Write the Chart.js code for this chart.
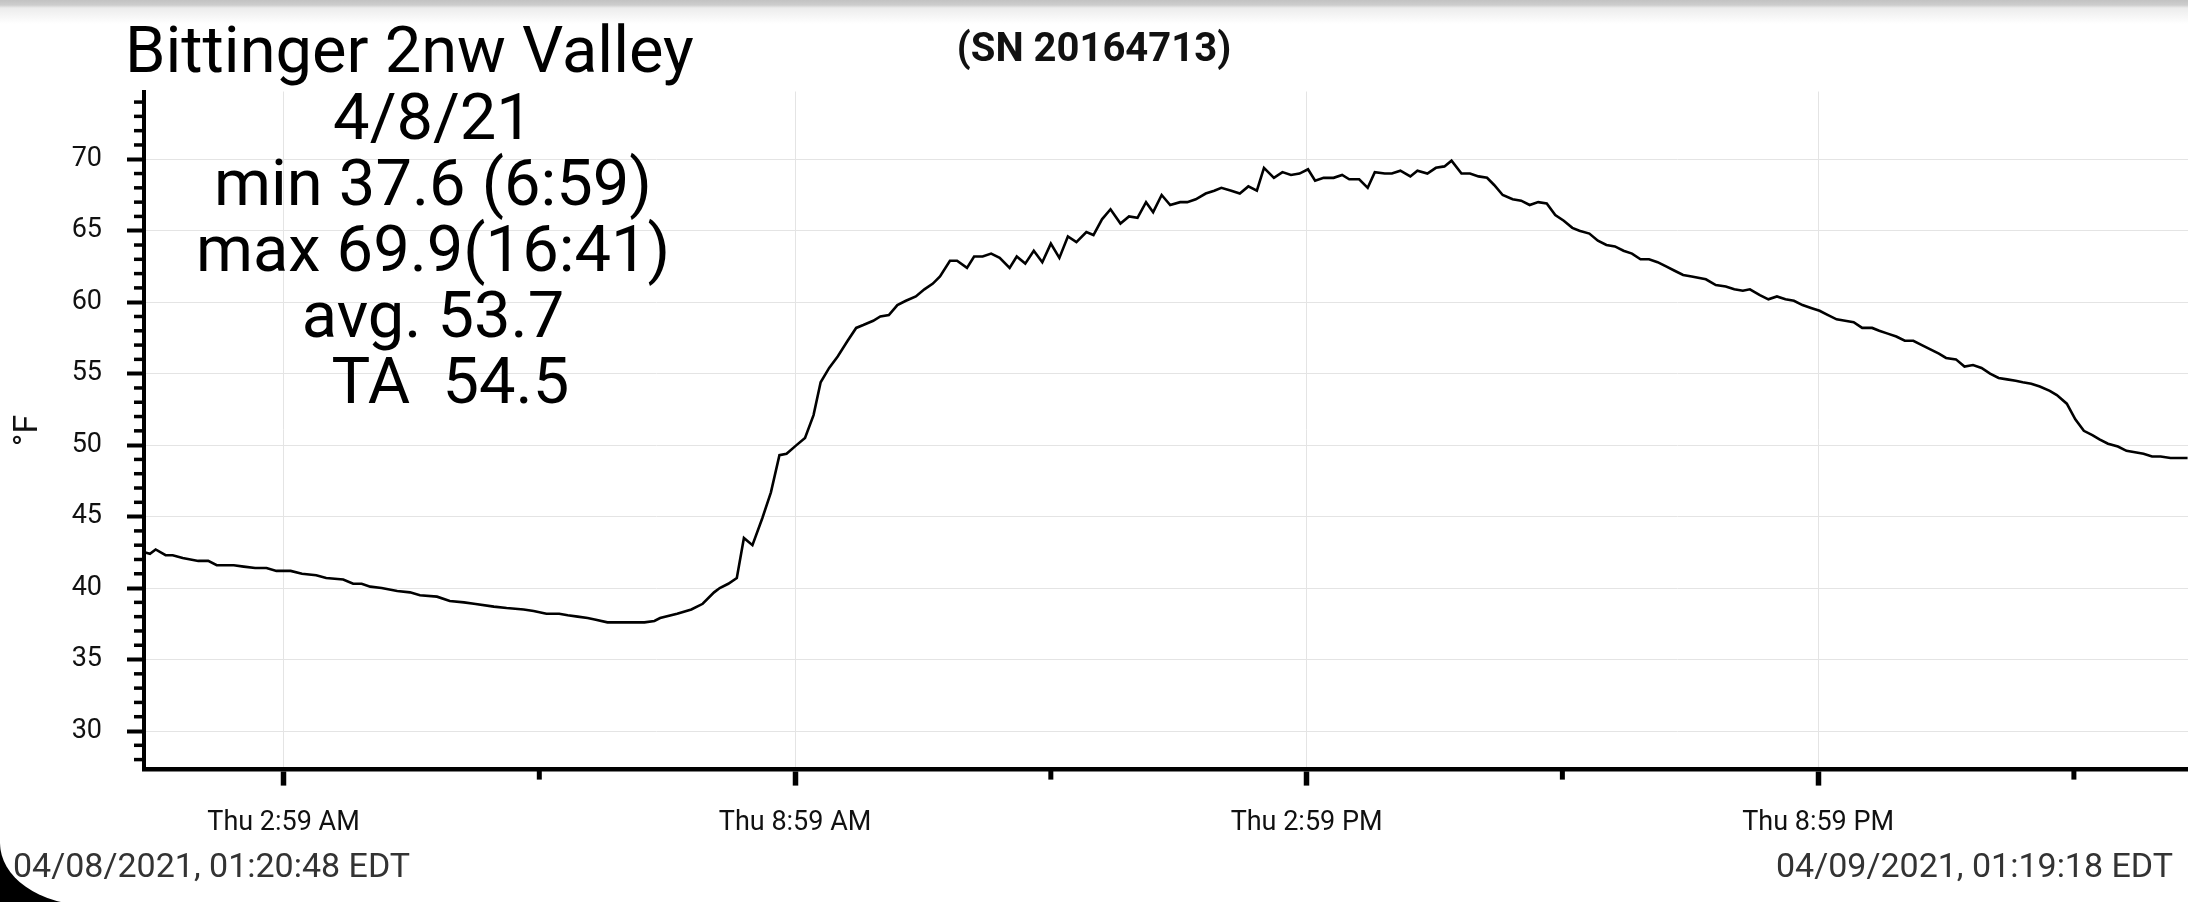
<!DOCTYPE html>
<html>
<head>
<meta charset="utf-8">
<title>Bittinger 2nw Valley</title>
<script src="https://cdn.jsdelivr.net/npm/chart.js@4.4.1/dist/chart.umd.min.js"></script>
<style>
  html, body { margin: 0; padding: 0; background: #fff; }
  #wrap { position: relative; width: 2188px; height: 902px; overflow: hidden; font-family: Roboto, sans-serif; }
  #tempChart { position: absolute; left: 0; top: 0; }
  .topShade { position: absolute; left: 0; top: 0; width: 2188px; height: 24px;
    background: linear-gradient(#c2c2c2 0px, #cdcdcd 5px, #ececec 8px, #ffffff 24px); z-index: 1; }
  .note { position: absolute; color: #000; white-space: pre; z-index: 2; }
  #station { left: 125px; top: 17px; font-size: 65px; line-height: 66px; }
  #stats { left: 133px; top: 84px; width: 600px; text-align: center; font-size: 65px; line-height: 66px; }
  #stats span { position: relative; left: 10px; }
  .stamp { position: absolute; top: 848px; font-size: 34px; line-height: 34px; color: #333; z-index: 2; }
  #corner { position: absolute; left: 0; top: 832px; width: 110px; height: 70px; background: #000; overflow: hidden; z-index: 1; }
  #corner div { position: absolute; left: 0; top: -200px; width: 300px; height: 273px; background: #fff;
    border-bottom-left-radius: 88px 62px; }
</style>
</head>
<body>
<div id="wrap">
  <canvas id="tempChart" width="2188" height="902"></canvas>
  <div class="topShade"></div>
  <div id="station" class="note">Bittinger 2nw Valley</div>
  <div id="stats" class="note">4/8/21
min 37.6 (6:59)
max 69.9(16:41)
avg. 53.7
<span> TA  54.5</span></div>
  <div id="corner"><div></div></div>
  <div class="stamp" style="left:13px">04/08/2021, 01:20:48 EDT</div>
  <div class="stamp" style="right:15px">04/09/2021, 01:19:18 EDT</div>
</div>

<script>
// logger readings, 4/8/21 -> 4/9/21 (hours past 23 are the next day)
const readTimes = [
  '01:21', '01:25', '01:29', '01:36', '01:41', '01:48', '01:59', '02:06', '02:12', '02:24',
  '02:31', '02:39', '02:47', '02:54', '03:04', '03:12', '03:22', '03:29', '03:41', '03:48',
  '03:54', '04:00', '04:08', '04:19', '04:28', '04:35', '04:47', '04:56', '05:06', '05:13',
  '05:27', '05:36', '05:48', '05:55', '06:04', '06:13', '06:19', '06:26', '06:33', '06:38',
  '06:47', '06:59', '07:13', '07:20', '07:24', '07:36', '07:46', '07:54', '08:02', '08:06',
  '08:12', '08:18', '08:23', '08:29', '08:36', '08:42', '08:48', '08:53', '09:00', '09:06',
  '09:12', '09:17', '09:23', '09:29', '09:36', '09:42', '09:47', '09:54', '09:59', '10:05',
  '10:11', '10:17', '10:24', '10:30', '10:36', '10:41', '10:48', '10:53', '11:00', '11:05',
  '11:11', '11:17', '11:23', '11:30', '11:35', '11:41', '11:47', '11:53', '11:59', '12:05',
  '12:11', '12:17', '12:24', '12:29', '12:35', '12:41', '12:48', '12:54', '13:00', '13:06',
  '13:11', '13:17', '13:23', '13:30', '13:35', '13:41', '13:48', '13:54', '13:59', '14:06',
  '14:12', '14:18', '14:24', '14:29', '14:36', '14:42', '14:48', '14:54', '15:00', '15:05',
  '15:11', '15:18', '15:24', '15:29', '15:36', '15:42', '15:47', '15:54', '15:59', '16:05',
  '16:12', '16:17', '16:24', '16:30', '16:36', '16:41', '16:48', '16:54', '17:00', '17:06',
  '17:11', '17:17', '17:24', '17:30', '17:36', '17:42', '17:48', '17:54', '18:00', '18:06',
  '18:11', '18:18', '18:24', '18:30', '18:36', '18:42', '18:48', '18:54', '19:00', '19:06',
  '19:12', '19:18', '19:24', '19:30', '19:40', '19:47', '19:54', '20:00', '20:06', '20:11',
  '20:18', '20:24', '20:30', '20:36', '20:42', '20:48', '20:54', '21:00', '21:06', '21:12',
  '21:18', '21:24', '21:30', '21:37', '21:42', '21:48', '21:54', '22:00', '22:06', '22:12',
  '22:18', '22:24', '22:29', '22:36', '22:42', '22:48', '22:54', '23:00', '23:06', '23:12',
  '23:18', '23:23', '23:29', '23:35', '23:42', '23:47', '23:54', '24:00', '24:06', '24:12',
  '24:17', '24:23', '24:30', '24:36', '24:42', '24:48', '24:54', '25:00', '25:07', '25:14',
  '25:19'
];
const tempsF = [
  42.5, 42.4, 42.7, 42.3, 42.3, 42.1, 41.9, 41.9, 41.6, 41.6,
  41.5, 41.4, 41.4, 41.2, 41.2, 41.0, 40.9, 40.7, 40.6, 40.3,
  40.3, 40.1, 40.0, 39.8, 39.7, 39.5, 39.4, 39.1, 39.0, 38.9,
  38.7, 38.6, 38.5, 38.4, 38.2, 38.2, 38.1, 38.0, 37.9, 37.8,
  37.6, 37.6, 37.6, 37.7, 37.9, 38.2, 38.5, 38.9, 39.7, 40.0,
  40.3, 40.7, 43.5, 43.0, 44.9, 46.7, 49.3, 49.4, 50.0, 50.5,
  52.1, 54.4, 55.4, 56.2, 57.3, 58.2, 58.4, 58.7, 59.0, 59.1,
  59.8, 60.1, 60.4, 60.9, 61.3, 61.8, 62.9, 62.9, 62.4, 63.2,
  63.2, 63.4, 63.1, 62.4, 63.2, 62.7, 63.6, 62.8, 64.1, 63.1,
  64.6, 64.2, 64.9, 64.7, 65.8, 66.5, 65.5, 66.0, 65.9, 67.0,
  66.3, 67.5, 66.8, 67.0, 67.0, 67.2, 67.6, 67.8, 68.0, 67.8,
  67.6, 68.1, 67.8, 69.4, 68.7, 69.1, 68.9, 69.0, 69.3, 68.5,
  68.7, 68.7, 68.9, 68.6, 68.6, 68.0, 69.1, 69.0, 69.0, 69.2,
  68.8, 69.2, 69.0, 69.4, 69.5, 69.9, 69.0, 69.0, 68.8, 68.7,
  68.2, 67.5, 67.2, 67.1, 66.8, 67.0, 66.9, 66.1, 65.7, 65.2,
  65.0, 64.8, 64.3, 64.0, 63.9, 63.6, 63.4, 63.0, 63.0, 62.8,
  62.5, 62.2, 61.9, 61.8, 61.6, 61.2, 61.1, 60.9, 60.8, 60.9,
  60.5, 60.2, 60.4, 60.2, 60.1, 59.8, 59.6, 59.4, 59.1, 58.8,
  58.7, 58.6, 58.2, 58.2, 58.0, 57.8, 57.6, 57.3, 57.3, 57.0,
  56.7, 56.4, 56.1, 56.0, 55.5, 55.6, 55.4, 55.0, 54.7, 54.6,
  54.5, 54.4, 54.3, 54.1, 53.8, 53.5, 52.9, 51.8, 51.0, 50.7,
  50.4, 50.1, 49.9, 49.6, 49.5, 49.4, 49.2, 49.2, 49.1, 49.1,
  49.1
];

const rangeStart = '01:20:48';
const rangeEnd = '25:19:18';

const xTickTimes = ['02:59', '05:59', '08:59', '11:59', '14:59', '17:59', '20:59', '23:59'];
const xTickLabels = ['Thu 2:59 AM', '', 'Thu 8:59 AM', '', 'Thu 2:59 PM', '', 'Thu 8:59 PM', ''];
const yTickValues = [28, 29, 30, 31, 32, 33, 34, 35, 36, 37, 38, 39, 40, 41, 42, 43, 44, 45, 46, 47,
  48, 49, 50, 51, 52, 53, 54, 55, 56, 57, 58, 59, 60, 61, 62, 63, 64, 65, 66, 67, 68, 69, 70, 71, 72, 73, 74];
const yLabelValues = [30, 35, 40, 45, 50, 55, 60, 65, 70];

// "HH:MM[:SS]" -> minutes past midnight of 4/8
function toMinutes(str) {
    const p = str.split(':').map(Number);
    return p[0] * 60 + p[1] + (p[2] || 0) / 60;
}

const points = readTimes.map((t, i) => ({ x: toMinutes(t), y: tempsF[i] }));

const tickFont = { family: 'Roboto', size: 27 };
const gridColor = ctx => (ctx.tick && ctx.tick.major) ? '#e4e4e4' : 'rgba(0,0,0,0)';
const tickColor = ctx => (ctx.tick && ctx.tick.major) ? '#000' : 'rgba(0,0,0,0)';

// short ticks between the labelled ones
const minorTicks = {
    id: 'minorTicks',
    afterDraw(chart) {
        const ctx = chart.ctx;
        const xs = chart.scales.x;
        const ys = chart.scales.y;
        ctx.save();
        ctx.strokeStyle = '#000';
        ctx.lineWidth = 5;
        xs.ticks.forEach(t => {
            if (t.major) return;
            const px = xs.getPixelForValue(t.value);
            ctx.beginPath();
            ctx.moveTo(px, xs.top);
            ctx.lineTo(px, xs.top + 10);
            ctx.stroke();
        });
        ctx.lineWidth = 3.5;
        ys.ticks.forEach(t => {
            if (t.major) return;
            const py = ys.getPixelForValue(t.value);
            ctx.beginPath();
            ctx.moveTo(ys.right, py);
            ctx.lineTo(ys.right - 10, py);
            ctx.stroke();
        });
        ctx.restore();
    }
};

new Chart(document.getElementById('tempChart'), {
    type: 'line',
    data: {
        datasets: [{
            label: '°F',
            data: points,
            borderColor: '#000',
            borderWidth: 2.6,
            pointRadius: 0,
            tension: 0,
            fill: false
        }]
    },
    options: {
        responsive: false,
        devicePixelRatio: 1,
        animation: false,
        layout: { padding: { left: 0, right: 0, top: 0, bottom: 42 } },
        plugins: {
            legend: { display: false },
            tooltip: { enabled: false },
            title: {
                display: true,
                text: '(SN 20164713)',
                color: '#111',
                font: { family: 'Roboto', size: 40, weight: 'bold' },
                padding: { top: 27, bottom: 16.5 }
            }
        },
        scales: {
            x: {
                type: 'linear',
                min: toMinutes(rangeStart),
                max: toMinutes(rangeEnd),
                afterBuildTicks: scale => {
                    scale.ticks = xTickTimes.map((t, i) => ({ value: toMinutes(t), major: xTickLabels[i] !== '' }));
                },
                ticks: {
                    autoSkip: false,
                    maxRotation: 0,
                    padding: 21,
                    color: '#111',
                    font: tickFont,
                    callback: (v, i) => xTickLabels[i]
                },
                grid: { color: gridColor, tickColor: tickColor, lineWidth: 1, tickLength: 16, tickWidth: 5.5 },
                border: { color: '#000', width: 4.5 }
            },
            y: {
                min: 27.3,
                max: 74.74,
                afterBuildTicks: scale => {
                    scale.ticks = yTickValues.map(v => ({ value: v, major: yLabelValues.includes(v) }));
                },
                afterFit: scale => { scale.width = 144; },
                ticks: {
                    autoSkip: false,
                    padding: 25,
                    color: '#111',
                    font: tickFont,
                    callback: v => yLabelValues.includes(v) ? String(v) : ''
                },
                grid: { color: gridColor, tickColor: tickColor, lineWidth: 1, tickLength: 17, tickWidth: 4 },
                border: { color: '#000', width: 4 },
                title: {
                    display: true,
                    text: '°F',
                    color: '#111',
                    font: { family: 'Roboto', size: 34 },
                    padding: { top: 8, bottom: 0 }
                }
            }
        }
    },
    plugins: [minorTicks]
});
</script>
</body>
</html>
